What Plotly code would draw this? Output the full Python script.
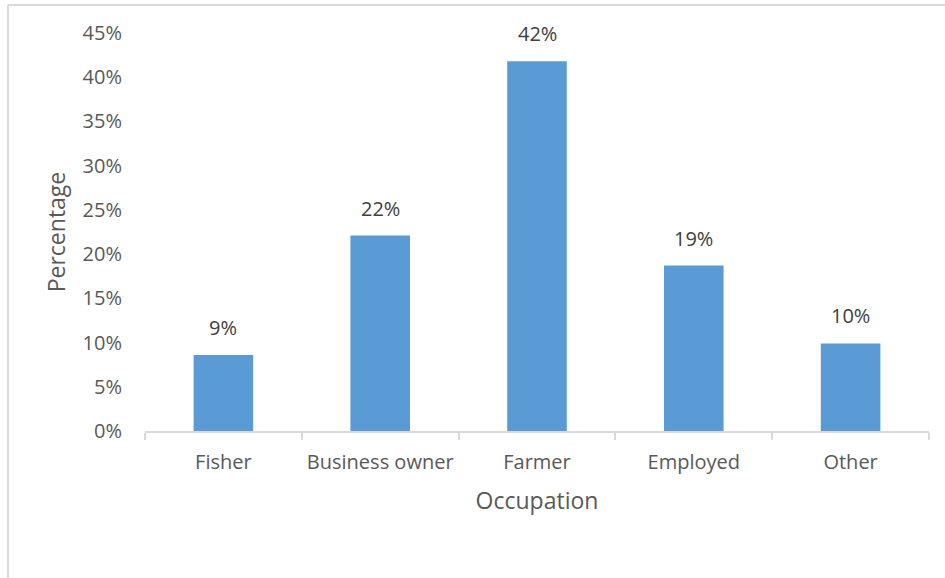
import plotly.graph_objects as go

# Occupation shares
occupations = ["Fisher", "Business owner", "Farmer", "Employed", "Other"]
shares = [0.086, 0.221, 0.418, 0.187, 0.099]
y_ticks = [0, 0.05, 0.10, 0.15, 0.20, 0.25, 0.30, 0.35, 0.40, 0.45]

FONT = "Open Sans"
TEXT = "#595959"
PLOT_W, PLOT_H = 784, 398

fig = go.Figure(
    go.Bar(
        x=occupations,
        y=shares,
        marker=dict(color="#5b9bd5", line=dict(width=0)),
        width=0.38,
        cliponaxis=False,
    )
)

# value labels above each bar
for occ, val in zip(occupations, shares):
    fig.add_annotation(
        x=occ, y=val, text=f"{val:.0%}", showarrow=False,
        yanchor="bottom", yshift=12,
        font=dict(family=FONT, size=20, color="#404040"),
    )

fig.update_layout(
    width=945,
    height=578,
    margin=dict(l=145, r=16, t=33, b=147),
    paper_bgcolor="white",
    plot_bgcolor="white",
    showlegend=False,
    font=dict(family=FONT, color=TEXT),
    shapes=[
        dict(type="line", xref="paper", yref="paper",
             x0=-137 / PLOT_W, x1=-137 / PLOT_W, y0=-160 / PLOT_H, y1=1 + 28 / PLOT_H,
             line=dict(color="#d9d9d9", width=2)),
        dict(type="line", xref="paper", yref="paper",
             x0=-137 / PLOT_W, x1=1 + 20 / PLOT_W, y0=1 + 28 / PLOT_H, y1=1 + 28 / PLOT_H,
             line=dict(color="#d9d9d9", width=2)),
    ],
)

fig.update_xaxes(
    showgrid=False,
    showline=True,
    linecolor="#d9d9d9",
    linewidth=2,
    ticks="outside",
    tickson="boundaries",
    ticklen=7,
    tickcolor="#d9d9d9",
    tickwidth=2,
    ticklabelstandoff=12,
    tickfont=dict(family=FONT, size=20, color=TEXT),
    title=dict(text="Occupation", font=dict(family=FONT, size=23, color=TEXT), standoff=19),
)

fig.update_yaxes(
    range=[0, 0.45],
    tickvals=y_ticks,
    tickformat=".0%",
    showgrid=False,
    zeroline=False,
    showline=False,
    ticks="",
    ticklabelstandoff=22,
    tickfont=dict(family=FONT, size=20, color=TEXT),
    title=dict(text="Percentage", font=dict(family=FONT, size=23, color=TEXT), standoff=10),
)

fig.write_html("out.html")
